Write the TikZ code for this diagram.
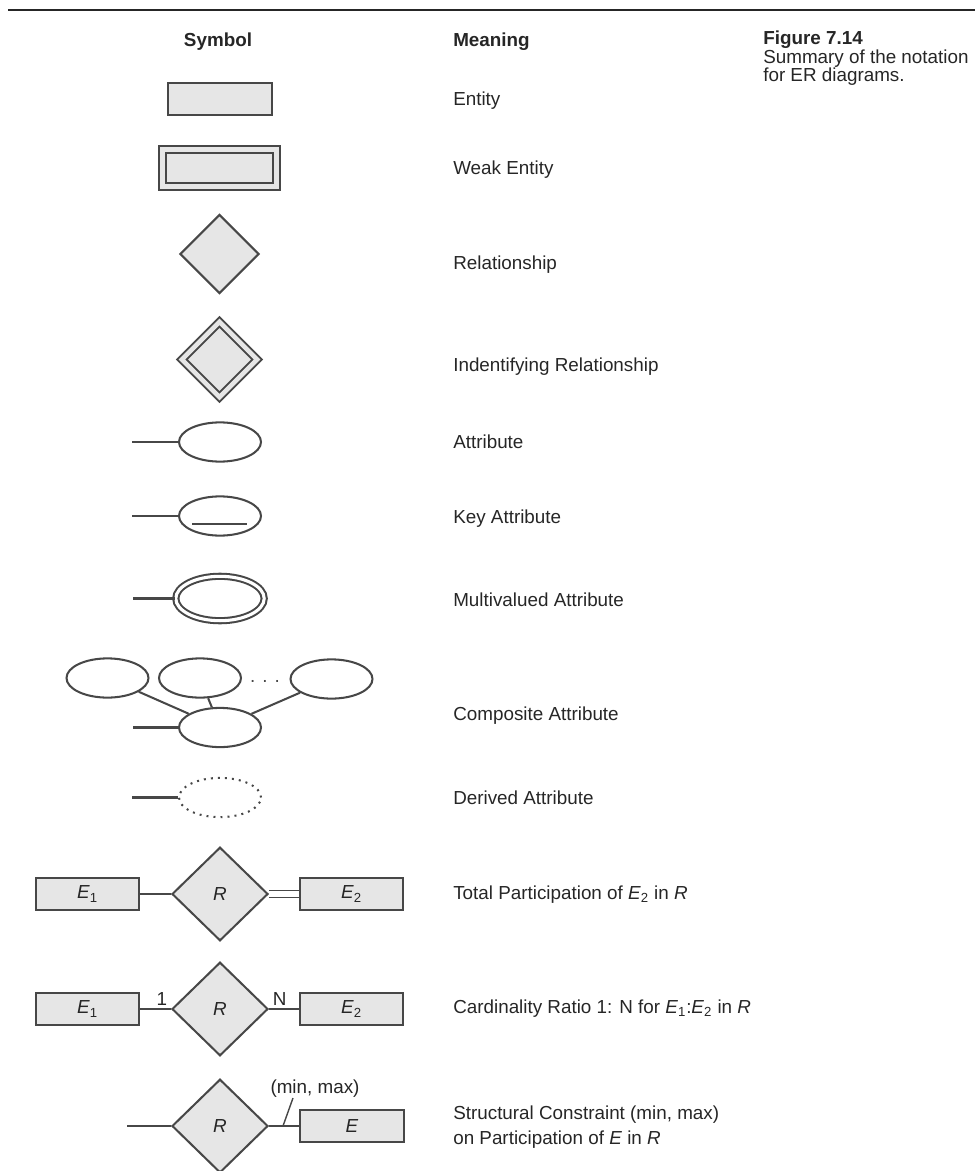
\documentclass[tikz,border=0pt]{standalone}
\usepackage{fontspec}
\setmainfont{Liberation Sans}
\usetikzlibrary{shapes.geometric,calc,positioning}
\definecolor{trait}{HTML}{474747}
\definecolor{fond}{HTML}{E6E6E6}
\definecolor{encre}{HTML}{262626}
\newcommand{\taille}{\fontsize{13.4}{15.5}\selectfont}
\newcommand{\nomE}[1]{\textit{E}\textsubscript{#1}}
\tikzset{
    entite/.style={rectangle,draw=trait,fill=fond,line width=1.45pt,minimum width=2.58cm,minimum height=0.78cm,inner sep=0pt,text=encre},
    faible/.style={entite,minimum width=2.86cm,minimum height=0.94cm,double=fond,double distance=3.4pt},
    relation/.style={diamond,draw=trait,fill=fond,line width=1.45pt,minimum width=1.98cm,minimum height=1.98cm,inner sep=0pt,text=encre},
    identif/.style={relation,minimum width=1.9cm,minimum height=1.9cm,double=fond,double distance=3.2pt},
    grand/.style={relation,minimum width=2.4cm,minimum height=2.34cm},
    attribut/.style={ellipse,draw=trait,line width=1.45pt,minimum width=2.05cm,minimum height=0.98cm,inner sep=0pt},
    multi/.style={attribut,minimum width=2.21cm,minimum height=1.11cm,double,double distance=2.2pt},
    derive/.style={attribut,dash pattern=on 1.4pt off 3.6pt},
    lien/.style={draw=trait,line width=1.45pt},
    sens/.style={anchor=base west,inner sep=0pt,text=encre},
}
\begin{document}
\begin{tikzpicture}[x=0.25mm,y=-0.25mm,font=\taille]
  \useasboundingbox (0,0) rectangle (975,1171);
  %filet du haut et en-tetes
  \draw[draw=encre,line width=2pt] (8,10) -- (975,10);
  \node[anchor=base,inner sep=0pt,text=encre,font=\taille\bfseries] (symbole) at (218,46.5) {Symbol};
  \node[sens,font=\taille\bfseries] (sens) at (453,47) {Meaning};
  \node[sens,font=\taille\bfseries] (figure) at (763,44.5) {Figure 7.14};
  \node[sens] (leg1) at (763,63.5) {Summary of the notation};
  \node[sens] (leg2) at (763,81.5) {for ER diagrams.};

  %entites et associations
  \node[entite,minimum width=2.6cm,minimum height=0.8cm] (ent) at (220,99) {};
  \node[faible] (entf) at (219.5,168) {};
  \node[relation] (rel) at (219.5,254) {};
  \node[identif] (relid) at (219.5,359.5) {};

  %attributs
  \coordinate (a1) at (132,442);
  \node[attribut] (att) at (220,442) {};
  \draw[lien] (a1) -- (att);

  \coordinate (a2) at (132,516);
  \node[attribut] (cle) at (220,516) {};
  \draw[lien] (a2) -- (cle);
  \draw[lien] ($(cle)+(-28,8)$) -- ($(cle)+(27,8)$);

  \coordinate (a3) at (133,598.5);
  \node[multi] (mult) at (220,598.5) {};
  \draw[lien] (a3) -- (mult);

  \node[attribut] (comp1) at (107.5,678) {};
  \node[attribut] (comp2) at (200,678) {};
  \node[attribut] (comp3) at (331.5,679) {};
  \node[text=trait] (points) at (265,681) {. . .};
  \node[attribut] (comp) at (220,727.5) {};
  \coordinate (a4) at (133,727.5);
  \draw[lien] (a4) -- (comp);
  \foreach \c in {comp1,comp2,comp3}
    \draw[lien] (\c) -- (comp);

  \coordinate (a5) at (132,797.5);
  \node[derive] (der) at (220,797.5) {};
  \draw[lien] (a5) -- (der);

  %participation totale
  \node[entite] (e1a) at (87.5,894) {\nomE{1}};
  \node[grand] (ra) at (220,894) {\textit{R}};
  \node[entite] (e2a) at (351.5,894) {\nomE{2}};
  \draw[lien] (e1a) -- (ra);
  \draw[lien,double,double distance=3.6pt,line width=1.2pt] (ra) -- (e2a);

  %cardinalite
  \node[entite] (e1b) at (87.5,1009) {\nomE{1}};
  \node[grand] (rb) at (220,1009) {\textit{R}};
  \node[entite] (e2b) at (351.5,1009) {\nomE{2}};
  \draw[lien] (e1b) -- (rb) node[pos=1,anchor=south east,inner sep=2pt,text=encre] {1};
  \draw[lien] (rb) -- (e2b) node[pos=0,anchor=south west,inner sep=2pt,text=encre] {N};

  %contrainte structurelle
  \coordinate (a6) at (127,1126);
  \node[grand] (rc) at (220,1126) {\textit{R}};
  \node[entite] (ec) at (352,1126) {\textit{E}};
  \draw[lien] (a6) -- (rc);
  \draw[lien] (rc) -- (ec);
  \node[text=encre,inner sep=0pt] (minmax) at (315,1089) {(min, max)};
  \coordinate (pied) at (283,1126);
  \coordinate (tete) at (293,1098);
  \draw[lien,line width=1pt] (pied) -- (tete);

  %colonne des significations
  \node[sens] (t1) at (453,105.5) {Entity};
  \node[sens] (t2) at (453,174.5) {Weak Entity};
  \node[sens] (t3) at (453,269.5) {Relationship};
  \node[sens] (t4) at (453,371.5) {Indentifying Relationship};
  \node[sens] (t5) at (453,448.5) {Attribute};
  \node[sens] (t6) at (453,523.5) {Key Attribute};
  \node[sens] (t7) at (453,606.5) {Multivalued Attribute};
  \node[sens] (t8) at (453,720.5) {Composite Attribute};
  \node[sens] (t9) at (453,804.5) {Derived Attribute};
  \node[sens] (t10) at (453,899.5) {Total Participation of \nomE{2} in \textit{R}};
  \node[sens] (t11) at (453,1013.5) {Cardinality Ratio 1: N for \nomE{1}:\nomE{2} in \textit{R}};
  \node[sens] (t12) at (453,1119.5) {Structural Constraint (min, max)};
  \node[sens] (t13) at (453,1144.5) {on Participation of \textit{E} in \textit{R}};
\end{tikzpicture}
\end{document}
